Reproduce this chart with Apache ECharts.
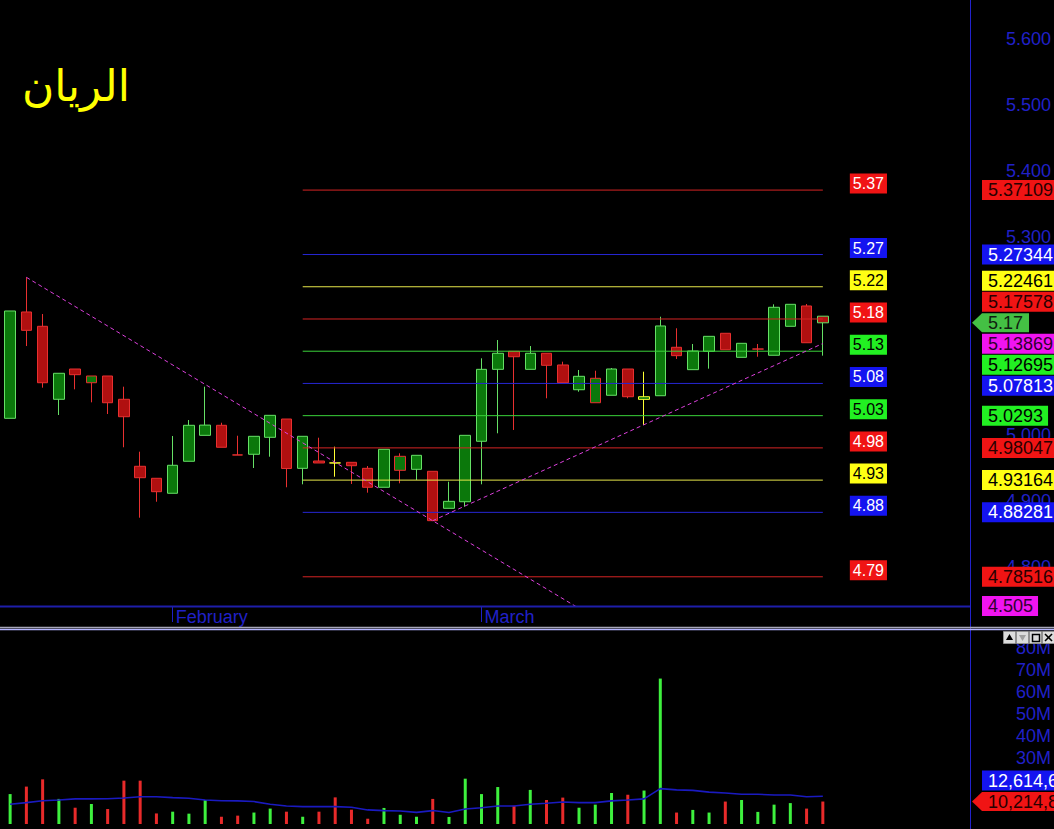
<!DOCTYPE html>
<html>
<head>
<meta charset="utf-8">
<script src="https://cdn.jsdelivr.net/npm/echarts@6/dist/echarts.min.js"></script>
<style>
html,body{margin:0;padding:0;background:#000;overflow:hidden}
#c{width:1054px;height:829px}
</style>
</head>
<body>
<div id="c"></div>
<script>
// ---------------- DATA ----------------
const title = 'الريان';

// 59 category slots (51 trading sessions + empty space on the right)
const monthLabels = ['', '', '', '', '', '', '', '', '', '', 'February', '', '', '', '', '', '', '', '', '',
  '', '', '', '', '', '', '', '', '', 'March', '', '', '', '', '', '', '', '', '', '',
  '', '', '', '', '', '', '', '', '', '', '', '', '', '', '', '', '', '', ''];

const opens  = [5.0253,5.1864,5.1647,5.0541,5.1000,5.0792,5.0894,5.0541,4.9526,4.9344,
                4.9117,4.9602,4.9995,5.0147,4.9698,4.9708,4.9965,5.0242,4.9495,4.9606,
                4.9577,4.9586,4.9495,4.9208,4.9465,4.9480,4.9450,4.8889,4.8989,4.9905,
                5.0995,5.1268,5.0995,5.1238,5.1061,5.0686,5.0489,5.0602,5.1000,5.0540,
                5.0595,5.1329,5.0990,5.1268,5.1541,5.1177,5.1302,5.1208,5.1647,5.1955,5.1800];
const closes = [5.1879,5.1586,5.0792,5.0935,5.0914,5.0894,5.0489,5.0277,4.9353,4.9141,
                4.9541,5.0147,5.0150,4.9814,4.9697,4.9980,5.0298,4.9492,4.9980,4.9576,
                4.9576,4.9535,4.9208,4.9783,4.9677,4.9692,4.8702,4.8995,4.9995,5.0995,
                5.1238,5.1186,5.1238,5.1056,5.0792,5.0889,5.0859,5.1000,5.0580,5.0580,
                5.1652,5.1202,5.1273,5.1495,5.1292,5.1389,5.1303,5.1935,5.1980,5.1398,5.1700];
const lows   = [5.0253,5.1348,5.0717,5.0303,5.0692,5.0495,5.0318,4.9814,4.8747,4.8989,
                4.9117,4.9602,4.9995,4.9814,4.9697,4.9500,4.9671,4.9208,4.9253,4.9576,
                4.9368,4.9258,4.9126,4.9208,4.9268,4.9318,4.8702,4.8889,4.8914,4.9253,
                5.0026,5.0076,5.0995,5.0556,5.0792,5.0656,5.0489,5.0602,5.0556,5.0152,
                5.0595,5.1152,5.0990,5.1005,5.1292,5.1177,5.1186,5.1208,5.1647,5.1398,5.1202];
const highs  = [5.1879,5.2389,5.1833,5.0935,5.1000,5.0894,5.0894,5.0732,4.9747,4.9344,
                4.9985,5.0227,5.0732,5.0186,4.9989,4.9980,5.0298,5.0242,4.9980,4.9959,
                4.9823,4.9586,4.9530,4.9783,4.9723,4.9692,4.9450,4.9292,4.9995,5.1162,
                5.1439,5.1268,5.1348,5.1238,5.1111,5.0985,5.0974,5.1015,5.1000,5.0959,
                5.1792,5.1617,5.1379,5.1495,5.1541,5.1389,5.1379,5.1980,5.1980,5.1985,5.1800];

// volume in millions of shares
const volumes = [13.6,17.0,20.3,11.4,7.4,9.1,6.8,19.7,19.7,4.8,
                 5.6,4.7,10.9,3.3,3.8,5.2,7.0,5.6,3.3,5.6,
                 12.1,6.5,2.4,7.3,4.2,3.3,11.4,3.2,20.6,13.6,
                 16.8,8.3,15.5,10.9,12.0,7.4,8.8,14.1,13.3,15.2,
                 66.1,5.2,6.4,5.2,10.2,10.9,5.5,8.8,9.5,7.0,10.214826];
const volumeAvg = [9.0,9.7,10.6,10.9,11.4,11.4,11.5,11.8,12.4,12.4,
                   12.0,11.7,10.9,10.6,10.5,10.2,9.0,8.2,7.9,7.9,
                   7.9,7.6,6.4,6.1,5.9,5.3,6.1,5.2,6.8,7.4,
                   8.2,8.2,9.0,9.4,10.0,9.7,9.7,10.5,10.9,11.4,
                   16.1,15.5,15.3,14.5,14.1,13.5,13.5,13.2,13.2,12.4,12.614627];

// horizontal price levels
const levelValues = [5.37109,5.27344,5.22461,5.17578,5.12695,5.07813,5.0293,4.98047,4.93164,4.88281,4.78516];
const levelLabels = ['5.37109','5.27344','5.22461','5.17578','5.12695','5.07813','5.0293','4.98047','4.93164','4.88281','4.78516'];
const levelKinds  = ['red','blue','yellow','red','green','blue','green','red','yellow','blue','red'];
const levelFrom = 18, levelTo = 50;

// trend lines [session index, price]
const downTrend = [[1, 5.2389], [50, 4.516]];
const upTrend   = [[26, 4.8702], [50, 5.13869]];
const downTrendLabel = '4.505';
const upTrendLabel = '5.13869';

const lastPrice = 5.17;
const priceTicks  = [4.8,4.9,5.0,5.3,5.4,5.5,5.6];
const volumeTicks = [30,40,50,60,70,80];

// ---------------- STYLE ----------------
const FONT = '"Liberation Sans", Arial, sans-serif';
const AXIS_BLUE = '#2020c8';
const UP_FILL = '#0b780b', DOWN_FILL = '#b01010';
const UP_BORDER = '#66e066', DOWN_BORDER = '#e83030', FLAT_BORDER = '#ffff33';
const VOL_UP = '#3ef03e', VOL_DOWN = '#e82a2a';
const LINE_COL = {red:'#d42424', blue:'#2626d4', yellow:'#e6e64a', green:'#3ad23a'};
const BOX = {
  red:    {bg:'#f01414', fg:'#280000', fgShort:'#ffffff'},
  blue:   {bg:'#1414f0', fg:'#ffffff', fgShort:'#ffffff'},
  yellow: {bg:'#ffff14', fg:'#000000', fgShort:'#000000'},
  green:  {bg:'#22f022', fg:'#000000', fgShort:'#000000'},
  magenta:{bg:'#f014f0', fg:'#300030', fgShort:'#300030'}
};
const TREND_COL = '#dc40dc';

const SLOTS = monthLabels.length;
const GRID_L = 2, GRID_W = 960;
const P_TOP = 0, P_H = 606, P_MIN = 4.740909, P_MAX = 5.659091;
const V_TOP = 631, V_H = 193, V_MIN = 0, V_MAX = 87.727;

const chart = echarts.init(document.getElementById('c'), null, {renderer: 'svg', width: 1054, height: 829});

const candleData = opens.map((o, i) => {
  const c = closes[i];
  const prev = i > 0 ? closes[i - 1] : o;
  const fill = c > o ? UP_FILL : DOWN_FILL;
  const border = c > prev ? UP_BORDER : (c < prev ? DOWN_BORDER : FLAT_BORDER);
  return {
    value: [o, c, lows[i], highs[i]],
    itemStyle: {color: fill, color0: fill, borderColor: border, borderColor0: border, borderColorDoji: border}
  };
});
const volumeData = volumes.map((v, i) => ({
  value: v,
  itemStyle: {color: closes[i] >= opens[i] ? VOL_UP : VOL_DOWN}
}));

const levelSeries = levelValues.map((v, k) => ({
  type: 'line', xAxisIndex: 1, yAxisIndex: 0,
  data: [[levelFrom, v], [levelTo, v]],
  symbol: 'none', silent: true, z: 4,
  lineStyle: {color: LINE_COL[levelKinds[k]], width: 1}
}));

const axisLabelCommon = {color: AXIS_BLUE, fontSize: 18, fontFamily: FONT, align: 'right', margin: 82};

chart.setOption({
  backgroundColor: '#000',
  animation: false,
  grid: [
    {left: GRID_L, top: P_TOP, width: GRID_W, height: P_H},
    {left: GRID_L, top: V_TOP, width: GRID_W, height: V_H}
  ],
  xAxis: [
    {type: 'category', gridIndex: 0, data: monthLabels, boundaryGap: true,
     axisLine: {show: false},
     axisTick: {show: true, alignWithLabel: true, length: 16, interval: (i, v) => v !== '',
                lineStyle: {color: AXIS_BLUE, width: 1}},
     axisLabel: {show: true, interval: 0, align: 'left', margin: 2, padding: [0, 0, 0, 3],
                 color: AXIS_BLUE, fontSize: 18, fontFamily: FONT},
     splitLine: {show: false}},
    {type: 'value', gridIndex: 0, min: -0.5, max: SLOTS - 0.5, show: false},
    {type: 'category', gridIndex: 1, data: monthLabels, boundaryGap: true, show: false}
  ],
  yAxis: [
    {type: 'value', gridIndex: 0, position: 'right', offset: 8, min: P_MIN, max: P_MAX, scale: true,
     axisLine: {show: false}, axisTick: {show: false}, splitLine: {show: false},
     axisLabel: Object.assign({customValues: priceTicks, formatter: v => v.toFixed(3)}, axisLabelCommon)},
    {type: 'value', gridIndex: 1, position: 'right', offset: 8, min: V_MIN, max: V_MAX,
     axisLine: {show: false}, axisTick: {show: false}, splitLine: {show: false},
     axisLabel: Object.assign({customValues: volumeTicks, formatter: v => v + 'M'}, axisLabelCommon)}
  ],
  series: [
    {type: 'candlestick', xAxisIndex: 0, yAxisIndex: 0, data: candleData, barWidth: 11, z: 3,
     itemStyle: {borderWidth: 1}},
    {type: 'line', name: 'downTrend', xAxisIndex: 1, yAxisIndex: 0, data: downTrend, symbol: 'none',
     clip: true, silent: true, z: 5, lineStyle: {color: TREND_COL, width: 1, type: [4, 3]}},
    {type: 'line', name: 'upTrend', xAxisIndex: 1, yAxisIndex: 0, data: upTrend, symbol: 'none',
     clip: true, silent: true, z: 5, lineStyle: {color: TREND_COL, width: 1, type: [4, 3]}},
    ...levelSeries,
    {type: 'bar', xAxisIndex: 2, yAxisIndex: 1, data: volumeData, barWidth: 3, z: 3},
    {type: 'line', xAxisIndex: 2, yAxisIndex: 1, data: volumeAvg, symbol: 'none', z: 4,
     lineStyle: {color: '#1a1ac0', width: 1.6}}
  ]
});

// ---------------- LABELS / DECORATION ----------------
const px = i => chart.convertToPixel({xAxisIndex: 1}, i);
const py = v => chart.convertToPixel({yAxisIndex: 0}, v);
const vy = v => chart.convertToPixel({yAxisIndex: 1}, v);
const priceBottom = py(P_MIN);
const axisX = GRID_L + GRID_W + 8;

const mctx = document.createElement('canvas').getContext('2d');
function textW(t, size) { mctx.font = size + 'px "Liberation Sans", Arial'; return mctx.measureText(t).width; }

const g = [];
// frame lines
g.push({type: 'line', z: 50, shape: {x1: 0, y1: priceBottom + 0.5, x2: axisX, y2: priceBottom + 0.5},
        style: {stroke: '#1e1eaa', lineWidth: 2}});
g.push({type: 'line', z: 50, shape: {x1: axisX + 0.5, y1: 0, x2: axisX + 0.5, y2: 829},
        style: {stroke: '#2222cc', lineWidth: 1}});
g.push({type: 'line', z: 50, shape: {x1: 0, y1: 627.5, x2: 1054, y2: 627.5}, style: {stroke: '#a8a8b8', lineWidth: 1.5}});
g.push({type: 'line', z: 50, shape: {x1: 0, y1: 629.5, x2: 1054, y2: 629.5}, style: {stroke: '#b4b4ff', lineWidth: 1.5}});

// title
g.push({type: 'text', z: 60, style: {text: title, x: 22, y: 85, font: '44px "DejaVu Sans", sans-serif',
        fill: '#ffff00', align: 'left', verticalAlign: 'middle'}});

// short level labels next to the lines
const shortX = px(levelTo) + 27;
levelValues.forEach((v, k) => {
  const b = BOX[levelKinds[k]];
  g.push({type: 'text', z: 60, style: {text: v.toFixed(2), x: shortX, y: py(v) - 6.5,
          font: '16px ' + FONT, fill: b.fgShort, backgroundColor: b.bg, padding: [1, 3, 1, 3],
          lineHeight: 18, align: 'left', verticalAlign: 'middle'}});
});

// right axis boxes, stacked around the last price marker
const BOX_X = axisX + 12, PITCH = 21;
function stack(anchorY, items) {
  const above = items.filter(it => it.y < anchorY).sort((a, b) => b.y - a.y);
  const below = items.filter(it => it.y >= anchorY).sort((a, b) => a.y - b.y);
  let prev = anchorY;
  above.forEach(it => { it.y = Math.min(it.y, prev - PITCH); prev = it.y; });
  prev = anchorY;
  below.forEach(it => { it.y = Math.max(it.y, prev + PITCH); prev = it.y; });
  return items;
}
function boxText(it) {
  const b = BOX[it.kind];
  g.push({type: 'text', z: 70, style: {text: it.text, x: BOX_X, y: it.y, font: '18px ' + FONT,
          fill: b.fg, backgroundColor: b.bg, padding: [1, 5, 1, 6], lineHeight: 18,
          align: 'left', verticalAlign: 'middle'}});
}
function arrowLabel(text, y, bg, fg) {
  const w = textW(text, 18) + 12;
  g.push({type: 'polygon', z: 70, shape: {points: [[axisX + 2, y], [BOX_X, y - 9.5], [BOX_X + w, y - 9.5],
          [BOX_X + w, y + 9.5], [BOX_X, y + 9.5]]}, style: {fill: bg}});
  g.push({type: 'text', z: 71, style: {text: text, x: BOX_X + 6, y: y, font: '18px ' + FONT, fill: fg,
          align: 'left', verticalAlign: 'middle'}});
}

const priceAnchor = py(lastPrice);
const priceItems = levelValues.map((v, k) => ({text: levelLabels[k], kind: levelKinds[k], y: py(v)}));
priceItems.push({text: upTrendLabel, kind: 'magenta', y: Math.min(py(upTrend[1][1]), priceBottom)});
priceItems.push({text: downTrendLabel, kind: 'magenta', y: Math.min(py(downTrend[1][1]), priceBottom)});
stack(priceAnchor, priceItems).forEach(boxText);
arrowLabel(lastPrice.toFixed(2), priceAnchor, '#44c044', '#102010');

const lastVol = volumes[volumes.length - 1];
const lastAvg = volumeAvg[volumeAvg.length - 1];
const volAnchor = vy(lastVol);
const fmt = v => Math.round(v * 1e6).toLocaleString('en-US');
stack(volAnchor, [{text: fmt(lastAvg), kind: 'blue', y: vy(lastAvg)}]).forEach(boxText);
arrowLabel(fmt(lastVol), volAnchor, '#f01414', '#280000');

// small pane buttons
const btnY = 631, btnS = 12;
[1003, 1016, 1029, 1042].forEach((bx, k) => {
  g.push({type: 'rect', z: 80, shape: {x: bx + 0.5, y: btnY + 0.5, width: btnS, height: btnS},
          style: {fill: '#dcdcdc', stroke: '#909090', lineWidth: 1}});
});
g.push({type: 'polygon', z: 81, shape: {points: [[1009.5, 634], [1006, 640], [1013, 640]]}, style: {fill: '#000'}});
g.push({type: 'polygon', z: 81, shape: {points: [[1019, 635], [1026, 635], [1022.5, 641]]}, style: {fill: '#a0a0a0'}});
g.push({type: 'rect', z: 81, shape: {x: 1032.5, y: 634.5, width: 7, height: 7}, style: {fill: 'none', stroke: '#000', lineWidth: 1.5}});
g.push({type: 'line', z: 81, shape: {x1: 1045, y1: 634, x2: 1052, y2: 641}, style: {stroke: '#000', lineWidth: 1.6}});
g.push({type: 'line', z: 81, shape: {x1: 1052, y1: 634, x2: 1045, y2: 641}, style: {stroke: '#000', lineWidth: 1.6}});

chart.setOption({graphic: g});
</script>
</body>
</html>
